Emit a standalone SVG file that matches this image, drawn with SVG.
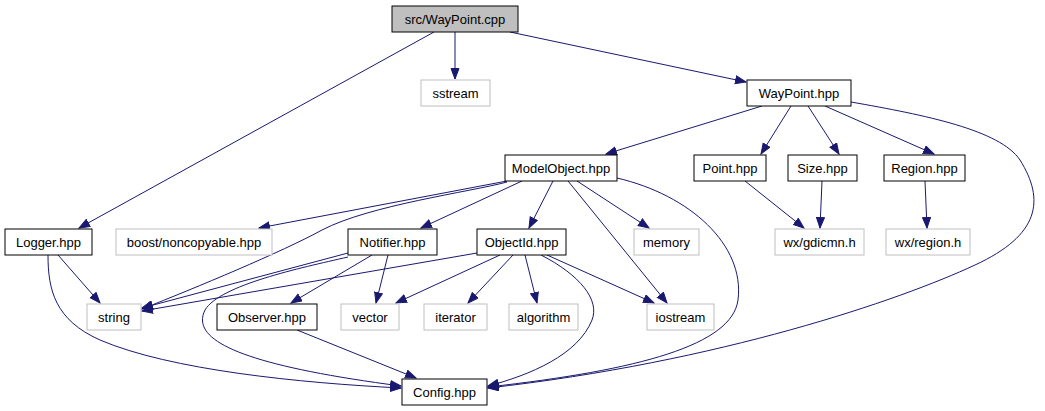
<svg xmlns="http://www.w3.org/2000/svg" width="1045" height="411" viewBox="0 0 1045 411">
<style>
.n rect{fill:#fff;stroke:#000;stroke-width:1}
.u rect{fill:#fff;stroke:#bfbfbf;stroke-width:1}
.r rect{fill:#bfbfbf;stroke:#000;stroke-width:1}
text{font-family:"Liberation Sans",Arial,sans-serif;font-size:13px;text-anchor:middle;fill:#000}
#edges path{fill:none;stroke:#191970;stroke-width:1;marker-end:url(#a)}
</style>
<defs>
<marker id="a" markerWidth="12" markerHeight="10" refX="11" refY="4.5" orient="auto" markerUnits="userSpaceOnUse"><path d="M0.5,0.5 L11,4.5 L0.5,8.5 z" fill="#191970" stroke="#191970" stroke-width="1"/></marker>
</defs>
<rect width="1045" height="411" fill="#fff"/>
<g id="edges">
<path d="M434,32 L79,228"/>
<path d="M455,32 L455,79"/>
<path d="M510,32 L746,82"/>
<path d="M762,106 L606,154"/>
<path d="M791,106 L761,154"/>
<path d="M808,106 L839,154"/>
<path d="M825,106 L934,154"/>
<path d="M851,102 C925,115 1000,130 1020,160 C1045,200 1040,235 975,265 C900,300 720,362 488,388"/>
<path d="M507,181 L259,228"/>
<path d="M507,182 C470,192 370,205 322,230 C282,252 195,288 142,309"/>
<path d="M522,181 L421,228"/>
<path d="M553,181 L529,228"/>
<path d="M577,181 L649,228"/>
<path d="M568,181 L667,303"/>
<path d="M617,178 C690,195 745,245 738,300 C732,345 640,370 488,387"/>
<path d="M58,255 L100,303"/>
<path d="M48,255 C48,290 55,320 100,340 C170,370 300,383 401,388"/>
<path d="M348,253 L142,308"/>
<path d="M348,257 C300,268 220,285 205,310 C190,340 240,365 401,386"/>
<path d="M372,255 L291,303"/>
<path d="M388,255 L376,303"/>
<path d="M477,253 L142,311"/>
<path d="M500,255 L396,303"/>
<path d="M513,255 L468,303"/>
<path d="M525,255 L537,303"/>
<path d="M547,255 L654,303"/>
<path d="M541,255 C580,275 600,300 592,320 C578,355 530,375 488,386"/>
<path d="M297,330 L416,378"/>
<path d="M745,181 L804,228"/>
<path d="M822,181 L820,228"/>
<path d="M925,181 L927,228"/>
</g>
<g id="node-src-WayPoint-cpp" class="r"><rect x="392" y="6" width="126" height="26"/><text x="455" y="23.5">src/WayPoint.cpp</text></g>
<g id="node-sstream" class="u"><rect x="421" y="80" width="69" height="26"/><text x="455.5" y="97.5">sstream</text></g>
<g id="node-WayPoint-hpp" class="n"><rect x="747" y="80" width="104" height="26"/><text x="799" y="97.5">WayPoint.hpp</text></g>
<g id="node-ModelObject-hpp" class="n"><rect x="505" y="155" width="112" height="26"/><text x="561" y="172.5">ModelObject.hpp</text></g>
<g id="node-Point-hpp" class="n"><rect x="694" y="155" width="72" height="26"/><text x="730" y="172.5">Point.hpp</text></g>
<g id="node-Size-hpp" class="n"><rect x="788" y="155" width="69" height="26"/><text x="822.5" y="172.5">Size.hpp</text></g>
<g id="node-Region-hpp" class="n"><rect x="884" y="155" width="81" height="26"/><text x="924.5" y="172.5">Region.hpp</text></g>
<g id="node-Logger-hpp" class="n"><rect x="5" y="229" width="87" height="26"/><text x="48.5" y="246.5">Logger.hpp</text></g>
<g id="node-boost-noncopyable-hpp" class="u"><rect x="116" y="229" width="156" height="26"/><text x="194" y="246.5">boost/noncopyable.hpp</text></g>
<g id="node-Notifier-hpp" class="n"><rect x="348" y="229" width="89" height="26"/><text x="392.5" y="246.5">Notifier.hpp</text></g>
<g id="node-ObjectId-hpp" class="n"><rect x="477" y="229" width="89" height="26"/><text x="521.5" y="246.5">ObjectId.hpp</text></g>
<g id="node-memory" class="u"><rect x="634" y="229" width="65" height="26"/><text x="666.5" y="246.5">memory</text></g>
<g id="node-wx-gdicmn-h" class="u"><rect x="775" y="229" width="89" height="26"/><text x="819.5" y="246.5">wx/gdicmn.h</text></g>
<g id="node-wx-region-h" class="u"><rect x="886" y="229" width="84" height="26"/><text x="928" y="246.5">wx/region.h</text></g>
<g id="node-string" class="u"><rect x="87" y="304" width="54" height="26"/><text x="114" y="321.5">string</text></g>
<g id="node-Observer-hpp" class="n"><rect x="217" y="304" width="100" height="26"/><text x="267" y="321.5">Observer.hpp</text></g>
<g id="node-vector" class="u"><rect x="341" y="304" width="58" height="26"/><text x="370" y="321.5">vector</text></g>
<g id="node-iterator" class="u"><rect x="424" y="304" width="63" height="26"/><text x="455.5" y="321.5">iterator</text></g>
<g id="node-algorithm" class="u"><rect x="509" y="304" width="69" height="26"/><text x="543.5" y="321.5">algorithm</text></g>
<g id="node-iostream" class="u"><rect x="647" y="304" width="67" height="26"/><text x="680.5" y="321.5">iostream</text></g>
<g id="node-Config-hpp" class="n"><rect x="402" y="379" width="85" height="26"/><text x="444.5" y="396.5">Config.hpp</text></g>
</svg>
